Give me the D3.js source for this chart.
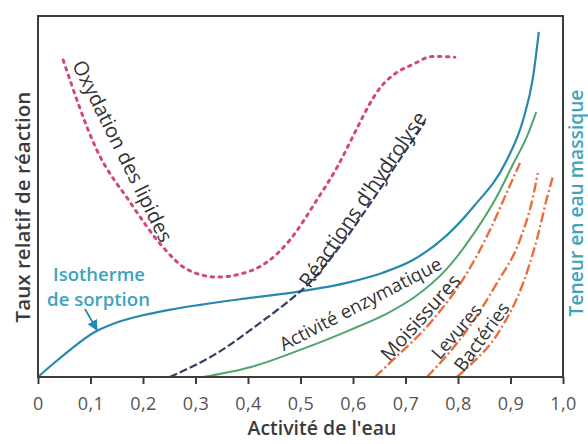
<!DOCTYPE html>
<html>
<head>
<meta charset="utf-8">
<script src="https://cdn.jsdelivr.net/npm/d3@7"></script>
<style>
  body { margin: 0; background: #fff; }
  text { font-family: "Open Sans", "Noto Sans", sans-serif; }
</style>
</head>
<body>
<svg id="chart"></svg>
<script>
// Valeurs (x = activité de l'eau, y = taux relatif 0..1)
const xTicks = [0, 0.1, 0.2, 0.3, 0.4, 0.5, 0.6, 0.7, 0.8, 0.9, 1.0];
const tickLabels = ["0", "0,1", "0,2", "0,3", "0,4", "0,5", "0,6", "0,7", "0,8", "0,9", "1,0"];

const oxydation = [[0.048, 0.878], [0.112, 0.629], [0.175, 0.485], [0.238, 0.36], [0.284, 0.298],
  [0.341, 0.277], [0.39, 0.287], [0.436, 0.318], [0.48, 0.38], [0.531, 0.49], [0.57, 0.582],
  [0.608, 0.69], [0.63, 0.752], [0.651, 0.8], [0.68, 0.84], [0.714, 0.866], [0.752, 0.888],
  [0.794, 0.886]];
const isotherme = [[0, 0], [0.03, 0.038], [0.06, 0.074], [0.105, 0.122], [0.15, 0.151],
  [0.2, 0.171], [0.25, 0.186], [0.309, 0.2], [0.404, 0.219], [0.499, 0.237], [0.594, 0.263],
  [0.657, 0.289], [0.714, 0.324], [0.779, 0.393], [0.829, 0.471], [0.893, 0.601], [0.924, 0.712],
  [0.943, 0.831], [0.954, 0.956]];
const hydrolyse = [[0.251, 0], [0.341, 0.066], [0.423, 0.15], [0.48, 0.213], [0.518, 0.262],
  [0.57, 0.352], [0.619, 0.451], [0.657, 0.533], [0.699, 0.624], [0.737, 0.706]];
const enzymatique = [[0.314, 0], [0.404, 0.027], [0.499, 0.075], [0.594, 0.13], [0.67, 0.18],
  [0.714, 0.218], [0.779, 0.3], [0.829, 0.395], [0.874, 0.5], [0.905, 0.59], [0.931, 0.665],
  [0.949, 0.734]];
const moisissures = [[0.642, 0], [0.67, 0.039], [0.747, 0.15], [0.817, 0.288], [0.861, 0.407],
  [0.895, 0.518], [0.918, 0.593]];
const levures = [[0.741, 0], [0.817, 0.13], [0.874, 0.26], [0.918, 0.38], [0.943, 0.5], [0.952, 0.565]];
const bacteries = [[0.798, 0], [0.817, 0.025], [0.88, 0.13], [0.924, 0.26], [0.95, 0.38],
  [0.97, 0.499], [0.981, 0.557]];

const width = 588, height = 444;
const mLeft = 38, mRight = 563, mTop = 16, mBottom = 377;

const svg = d3.select("#chart")
  .attr("width", width)
  .attr("height", height);

const x = d3.scaleLinear().domain([0, 1]).range([mLeft, mRight]);
const y = d3.scaleLinear().domain([0, 1]).range([mBottom, mTop]);

const line = d3.line()
  .x(d => x(d[0]))
  .y(d => y(d[1]))
  .curve(d3.curveMonotoneX);

// ajuste la taille de police pour obtenir la longueur voulue
function fitText(sel, target) {
  const len = sel.node().getComputedTextLength();
  const fs = parseFloat(sel.style("font-size"));
  sel.style("font-size", (fs * target / len) + "px");
}

// Courbes
const curves = [
  { data: oxydation, color: "#d4477c", width: 3, dash: "2.5,5.5", cap: "round" },
  { data: isotherme, color: "#2689ad", width: 2.2, dash: null, cap: "butt" },
  { data: hydrolyse, color: "#2e3f62", width: 2.2, dash: "8,3", cap: "butt" },
  { data: enzymatique, color: "#4ea66c", width: 2, dash: null, cap: "butt" },
  { data: moisissures, color: "#ea6d3a", width: 2.4, dash: "10,3,2,3", cap: "butt" },
  { data: levures, color: "#ea6d3a", width: 2.4, dash: "10,3,2,3", cap: "butt" },
  { data: bacteries, color: "#ea6d3a", width: 2.4, dash: "10,3,2,3", cap: "butt" }
];

svg.selectAll(".curve")
  .data(curves)
  .enter()
  .append("path")
  .attr("class", "curve")
  .attr("d", d => line(d.data))
  .attr("fill", "none")
  .attr("stroke", d => d.color)
  .attr("stroke-width", d => d.width)
  .attr("stroke-dasharray", d => d.dash)
  .attr("stroke-linecap", d => d.cap);

// Cadre
svg.append("rect")
  .attr("x", mLeft)
  .attr("y", mTop)
  .attr("width", mRight - mLeft)
  .attr("height", mBottom - mTop)
  .attr("fill", "none")
  .attr("stroke", "#3c3c3c")
  .attr("stroke-width", 2);

// Axe des x
const xAxis = svg.append("g")
  .attr("transform", `translate(0,${mBottom})`)
  .call(d3.axisBottom(x)
    .tickValues(xTicks)
    .tickFormat((d, i) => tickLabels[i])
    .tickSize(7)
    .tickPadding(13));

xAxis.select(".domain").remove();
xAxis.selectAll(".tick line").attr("stroke", "#3c3c3c").attr("stroke-width", 2);
xAxis.selectAll(".tick text")
  .attr("fill", "#555")
  .style("font-size", "18px")
  .style("letter-spacing", "0.5px")
  .style("font-family", "'Open Sans', sans-serif");

// Titres des axes
const xTitle = svg.append("text")
  .attr("x", 322)
  .attr("y", 435)
  .attr("text-anchor", "middle")
  .attr("fill", "#3a3a3a")
  .style("font-size", "16px")
  .style("font-weight", "600")
  .text("Activité de l'eau");
fitText(xTitle, 149);

const yTitle = svg.append("text")
  .attr("transform", "translate(22,207) rotate(-90)")
  .attr("text-anchor", "middle")
  .attr("dominant-baseline", "central")
  .attr("fill", "#3a3a3a")
  .style("font-size", "16px")
  .style("font-weight", "600")
  .text("Taux relatif de réaction");
fitText(yTitle, 231);

const y2Title = svg.append("text")
  .attr("transform", "translate(575,203) rotate(-90)")
  .attr("text-anchor", "middle")
  .attr("dominant-baseline", "central")
  .attr("fill", "#3ea3bd")
  .style("font-size", "16px")
  .style("font-weight", "600")
  .text("Teneur en eau massique");
fitText(y2Title, 227);

// Étiquettes des courbes
const labels = [
  { text: "Oxydation des lipides", px: 123, py: 151, angle: 63.6, len: 200 },
  { text: "Réactions d'hydrolyse", px: 362, py: 199, angle: -55.5, len: 208 },
  { text: "Activité enzymatique", px: 360, py: 303, angle: -27.5, len: 180 },
  { text: "Moisissures", px: 420, py: 317, angle: -48, len: 108 },
  { text: "Levures", px: 456, py: 331, angle: -49, len: 66 },
  { text: "Bactéries", px: 481, py: 336, angle: -54, len: 80 }
];

svg.selectAll(".label")
  .data(labels)
  .enter()
  .append("text")
  .attr("class", "label")
  .attr("transform", d => `translate(${d.px},${d.py}) rotate(${d.angle})`)
  .attr("text-anchor", "middle")
  .attr("dominant-baseline", "central")
  .attr("fill", "#333")
  .style("font-size", "16px")
  .text(d => d.text)
  .each(function(d) { fitText(d3.select(this), d.len); });

// Isotherme de sorption
const iso1 = svg.append("text")
  .attr("x", 99).attr("y", 273)
  .attr("text-anchor", "middle")
  .attr("dominant-baseline", "central")
  .attr("fill", "#3ea3bd")
  .style("font-size", "16px")
  .style("font-weight", "600")
  .text("Isotherme");
fitText(iso1, 92);

const iso2 = svg.append("text")
  .attr("x", 98.5).attr("y", 298)
  .attr("text-anchor", "middle")
  .attr("dominant-baseline", "central")
  .attr("fill", "#3ea3bd")
  .style("font-size", "16px")
  .style("font-weight", "600")
  .text("de sorption");
fitText(iso2, 103);

svg.append("defs").append("marker")
  .attr("id", "arrow")
  .attr("viewBox", "0 0 10 10")
  .attr("refX", 9)
  .attr("refY", 5)
  .attr("markerWidth", 6)
  .attr("markerHeight", 6)
  .attr("orient", "auto")
  .append("path")
  .attr("d", "M0,0 L10,5 L0,10 z")
  .attr("fill", "#2689ad");

svg.append("line")
  .attr("x1", 85)
  .attr("y1", 309)
  .attr("x2", 97)
  .attr("y2", 330)
  .attr("stroke", "#2689ad")
  .attr("stroke-width", 1.8)
  .attr("marker-end", "url(#arrow)");
</script>
</body>
</html>
